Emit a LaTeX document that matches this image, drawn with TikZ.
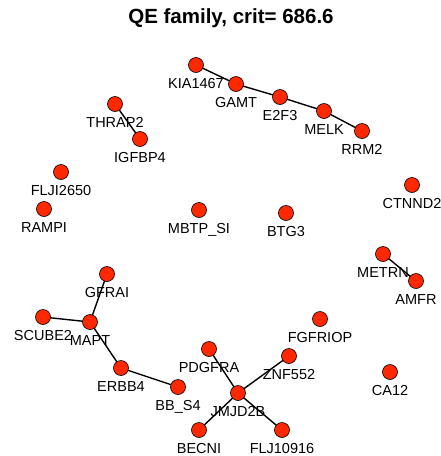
\documentclass[tikz,border=0pt]{standalone}
\usepackage{fontspec}
\setmainfont{Liberation Sans}
\begin{document}
\begin{tikzpicture}[x=1pt,y=-1pt,
  gene/.style={circle,draw=black,line width=0.6pt,fill=geneRed,minimum size=15pt,inner sep=0pt},
  lbl/.style={anchor=base,font=\fontsize{14.5}{16}\selectfont,inner sep=0pt},
  link/.style={draw=black,line width=1.4pt}]
\definecolor{geneRed}{RGB}{255,40,0}
\useasboundingbox (0,0) rectangle (441,456);
\fill[white] (0,0) rectangle (441,456);
\node[font=\bfseries\fontsize{20.5}{24}\selectfont,anchor=base,inner sep=0pt] (title) at (231,23) {QE family, crit= 686.6};
% gene nodes
\foreach \n/\x/\y in {kia/196/65, gamt/236/84, e2f/280/97, melk/324/111, rrm/362/131,
  thrap/115/104, igf/140/139, flj1/61/172, ramp/44/209, mbtp/199/210, btg/286/213,
  ctnnd/412/185, metrn/383/254, amfr/416/281, gfra/107/274, scube/43/317, mapt/90/322,
  erbb/121/368, bbs/178/387, pdgfra/209/349, znf/289/356, fgf/320/319, ca/390/372,
  jmjd/238/393, becn/199/430, flj2/282/430}
  \coordinate (\n-c) at (\x,\y);
% connectors
\foreach \a/\b in {kia/gamt, gamt/e2f, e2f/melk, melk/rrm, thrap/igf, metrn/amfr,
  gfra/mapt, scube/mapt, mapt/erbb, erbb/bbs, pdgfra/jmjd, znf/jmjd, becn/jmjd, flj2/jmjd}
  \draw[link] (\a-c) -- (\b-c);
\foreach \n in {kia,gamt,e2f,melk,rrm,thrap,igf,flj1,ramp,mbtp,btg,ctnnd,metrn,amfr,
  gfra,scube,mapt,erbb,bbs,pdgfra,znf,fgf,ca,jmjd,becn,flj2}
  \node[gene] (\n) at (\n-c) {};
% labels below the nodes
\foreach \n/\t in {kia/KIA1467, gamt/GAMT, e2f/E2F3, melk/MELK, rrm/RRM2, thrap/THRAP2,
  igf/IGFBP4, flj1/FLJI2650, ramp/RAMPI, mbtp/MBTP\_SI, btg/BTG3, ctnnd/CTNND2,
  metrn/METRN, amfr/AMFR, gfra/GFRAI, scube/SCUBE2, mapt/MAPT, erbb/ERBB4, bbs/BB\_S4,
  pdgfra/PDGFRA, znf/ZNF552, fgf/FGFRIOP, ca/CA12, jmjd/JMJD2B, becn/BECNI, flj2/FLJ10916}
  \node[lbl] (\n-l) at ([yshift=-23pt]\n-c) {\t};
\end{tikzpicture}
\end{document}
